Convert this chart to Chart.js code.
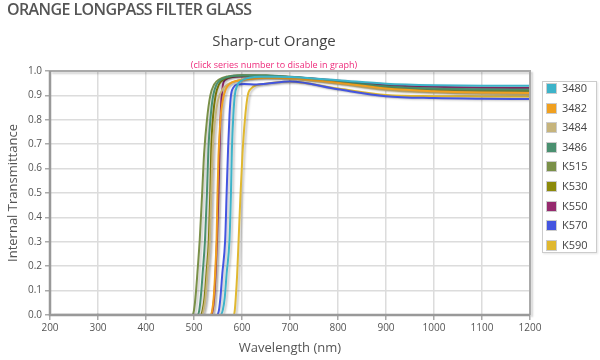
<!DOCTYPE html>
<html>
<head>
<meta charset="utf-8">
<script src="https://cdn.jsdelivr.net/npm/chart.js@4.4.1/dist/chart.umd.min.js"></script>
<style>
  html, body { margin:0; padding:0; background:#fff; }
  #wrap { position:relative; width:600px; height:360px; overflow:hidden; font-family:"Open Sans", sans-serif; }
  #c { position:absolute; left:0; top:0; }
  #h1 { position:absolute; left:7px; top:-2px; font-size:16px; font-weight:600; color:#555; letter-spacing:-0.6px; white-space:nowrap; }
  #t1 { position:absolute; left:0; width:548px; top:30px; text-align:center; font-size:15px; color:#444; white-space:nowrap; }
  #t2 { position:absolute; left:0; width:548px; top:58px; text-align:center; font-size:9px; color:#ee2a7b; white-space:nowrap; }
  #legend { position:absolute; left:542px; top:81px; width:53px; height:170px; border:1px solid #ccc; box-shadow:1px 1px 2px rgba(0,0,0,0.1); }
  .li { position:absolute; left:3px; height:14px; font-size:11px; color:#444; line-height:14px; white-space:nowrap; }
  .sw { position:absolute; left:0; top:1px; width:9px; height:9px; border:1px solid #ccc; }
  .lt { position:absolute; left:16px; top:-1px; }
</style>
</head>
<body>
<div id="wrap">
  <canvas id="c" width="600" height="360"></canvas>
  <div id="h1">ORANGE LONGPASS FILTER GLASS</div>
  <div id="t1">Sharp-cut Orange</div>
  <div id="t2">(click series number to disable in graph)</div>
  <div id="legend"></div>
</div>
<script>
// Series names and colours
const seriesNames = ["3480", "3482", "3484", "3486", "K515", "K530", "K550", "K570", "K590"];
const seriesColors = ["#3db3c9", "#f0a020", "#c6b47c", "#4a9070", "#7a9048", "#8c8a0a", "#962a6e", "#4455e0", "#e0b830"];

// Wavelengths (nm) and internal transmittance for each glass
const wl_3480 = [200,555,560,564,568,574,577,579,582,585,590,598,615,640,670,700,800,900,1000,1100,1200];
const t_3480  = [0,0,0.02,0.07,0.17,0.31,0.5,0.68,0.82,0.9,0.94,0.96,0.972,0.976,0.976,0.975,0.962,0.948,0.942,0.94,0.94];

const wl_3482 = [200,535,538,541,544,547,549,551,555,560,566,575,590,620,650,700,800,900,1000,1100,1200];
const t_3482  = [0,0,0.02,0.07,0.17,0.31,0.5,0.65,0.8,0.88,0.925,0.948,0.96,0.968,0.972,0.97,0.952,0.928,0.917,0.912,0.91];

const wl_3484 = [200,516,520,524,528,533,536,539,544,550,558,570,590,620,650,700,800,900,1000,1100,1200];
const t_3484  = [0,0,0.02,0.07,0.17,0.31,0.5,0.68,0.8,0.88,0.92,0.945,0.96,0.968,0.97,0.968,0.948,0.922,0.912,0.907,0.905];

const wl_3486 = [200,508,511,514,518,523,527,530,535,540,547,557,575,600,650,700,800,900,1000,1100,1200];
const t_3486  = [0,0,0.02,0.07,0.17,0.31,0.5,0.68,0.82,0.9,0.945,0.965,0.978,0.982,0.982,0.976,0.958,0.937,0.928,0.925,0.924];

const wl_K515 = [200,497,500,503,507,512,517,521,527,534,542,552,570,600,650,700,800,900,1000,1100,1200];
const t_K515  = [0,0,0.02,0.07,0.17,0.31,0.5,0.66,0.8,0.9,0.945,0.965,0.978,0.983,0.982,0.975,0.955,0.932,0.922,0.918,0.915];

const wl_K530 = [200,514,518,522,526,531,534,536,540,545,552,562,580,600,650,700,800,900,1000,1100,1200];
const t_K530  = [0,0,0.02,0.07,0.17,0.31,0.5,0.68,0.82,0.9,0.945,0.966,0.978,0.982,0.981,0.975,0.957,0.935,0.925,0.921,0.92];

const wl_K550 = [200,536,539,542,545,548,551,553,555,557,560,566,580,610,650,700,800,900,1000,1100,1200];
const t_K550  = [0,0,0.02,0.07,0.17,0.31,0.5,0.66,0.8,0.88,0.94,0.965,0.975,0.978,0.978,0.975,0.96,0.943,0.935,0.931,0.93];

const wl_K570 = [200,548,552,555,559,565,568,571,574,577,582,590,605,630,650,700,800,900,1000,1100,1200];
const t_K570  = [0,0,0.02,0.07,0.17,0.31,0.5,0.68,0.82,0.9,0.932,0.945,0.947,0.945,0.948,0.957,0.925,0.897,0.889,0.886,0.885];

const wl_K590 = [200,583,585,587,590,593,597,601,606,612,620,630,645,665,700,800,900,1000,1100,1200];
const t_K590  = [0,0,0.02,0.07,0.17,0.31,0.5,0.66,0.8,0.9,0.93,0.942,0.947,0.952,0.956,0.928,0.902,0.897,0.896,0.895];

// Axis ticks
const xTicks = [200,300,400,500,600,700,800,900,1000,1100,1200];
const yTicks = [0,0.1,0.2,0.3,0.4,0.5,0.6,0.7,0.8,0.9,1.0];

const wlSets = [wl_3480, wl_3482, wl_3484, wl_3486, wl_K515, wl_K530, wl_K550, wl_K570, wl_K590];
const tSets  = [t_3480, t_3482, t_3484, t_3486, t_K515, t_K530, t_K550, t_K570, t_K590];

const datasets = seriesNames.map((n, i) => ({
  label: n,
  data: wlSets[i].map((w, j) => ({x: w, y: tSets[i][j]})),
  borderColor: seriesColors[i],
  backgroundColor: seriesColors[i],
  borderWidth: 2,
  pointRadius: 0,
  fill: false,
  cubicInterpolationMode: 'monotone'
}));

const shadowPlugin = {
  id: 'shadow',
  beforeDatasetDraw(chart) {
    const ctx = chart.ctx;
    ctx.save();
    ctx.shadowColor = 'rgba(0,0,0,0.22)';
    ctx.shadowOffsetX = 2;
    ctx.shadowOffsetY = 1;
    ctx.shadowBlur = 2;
  },
  afterDatasetDraw(chart) { chart.ctx.restore(); }
};

const framePlugin = {
  id: 'frame',
  afterDraw(chart) {
    const {ctx, chartArea: a} = chart;
    ctx.save();
    ctx.shadowColor = 'rgba(0,0,0,0.18)';
    ctx.shadowOffsetX = 2; ctx.shadowOffsetY = 2; ctx.shadowBlur = 2;
    ctx.strokeStyle = '#aaa';
    ctx.lineWidth = 2;
    ctx.beginPath();
    ctx.moveTo(a.left, a.top); ctx.lineTo(a.right, a.top); ctx.lineTo(a.right, a.bottom);
    ctx.stroke();
    ctx.shadowColor = 'transparent';
    ctx.strokeStyle = '#999';
    ctx.lineWidth = 2.5;
    ctx.beginPath();
    ctx.moveTo(a.left, a.top); ctx.lineTo(a.left, a.bottom); ctx.lineTo(a.right, a.bottom);
    ctx.stroke();
    ctx.restore();
  }
};

const tickFont = {family: '"Open Sans", sans-serif', size: 10};

new Chart(document.getElementById('c'), {
  type: 'line',
  data: { datasets },
  options: {
    responsive: false,
    animation: false,
    layout: { padding: { top: 71, right: 70, left: 0, bottom: 0 } },
    plugins: { legend: { display: false }, tooltip: { enabled: false }, title: { display: false } },
    scales: {
      x: {
        type: 'linear', min: 200, max: 1200,
        afterFit(s) { s.height = 45; },
        afterBuildTicks(s) { s.ticks = xTicks.map(v => ({value: v})); },
        ticks: { color: '#555', font: tickFont, padding: 2, maxRotation: 0, callback: v => String(v) },
        grid: { color: '#dcdcdc', lineWidth: 1.5, tickLength: 5, tickColor: '#aaa' },
        border: { display: false },
        title: { display: true, text: 'Wavelength (nm)', color: '#555', font: {family: '"Open Sans", sans-serif', size: 13}, padding: {top: 4, bottom: 4} }
      },
      y: {
        type: 'linear', min: 0, max: 1,
        afterFit(s) { s.width = 50; },
        afterBuildTicks(s) { s.ticks = yTicks.map(v => ({value: v})); },
        ticks: { color: '#555', font: tickFont, padding: 3, callback: v => Number(v).toFixed(1) },
        grid: { color: '#dcdcdc', lineWidth: 1.5, tickLength: 5, tickColor: '#aaa' },
        border: { display: false },
        title: { display: true, text: 'Internal Transmittance', color: '#555', font: {family: '"Open Sans", sans-serif', size: 13}, padding: {top: 5, bottom: 4} }
      }
    }
  },
  plugins: [shadowPlugin, framePlugin]
});

// HTML legend built from the series
const leg = document.getElementById('legend');
seriesNames.forEach((n, i) => {
  const d = document.createElement('div');
  d.className = 'li';
  d.style.top = (i * 19.6 + 0) + 'px';
  d.innerHTML = '<span class="sw" style="background:' + seriesColors[i] + '"></span><span class="lt">' + n + '</span>';
  leg.appendChild(d);
});
</script>
</body>
</html>
